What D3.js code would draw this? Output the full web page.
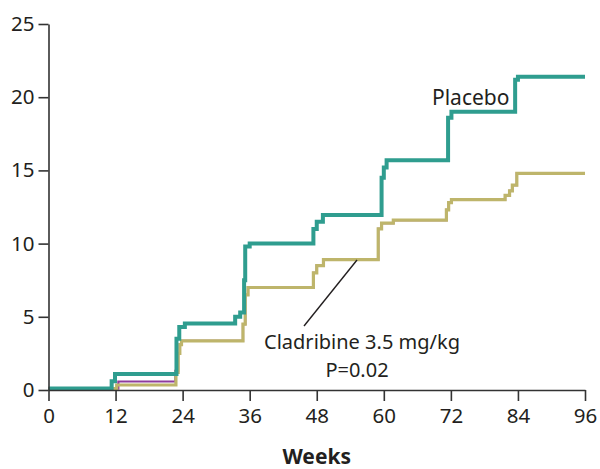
<!DOCTYPE html>
<html>
<head>
<meta charset="utf-8">
<script src="https://cdn.jsdelivr.net/npm/d3@7"></script>
<style>
  body { margin: 0; background: #fff; }
  text { font-family: "Noto Sans", "Open Sans", sans-serif; fill: #231f20; }
</style>
</head>
<body>
<div id="chart"></div>
<script>
// step points: [week, cumulative %]
var placeboWeeks  = [0, 11.3, 11.9, 22.9, 23.4, 24.4, 33.4, 34.3, 35.0, 35.2, 36.0, 47.4, 48.0, 49.1, 59.6, 60.0, 60.5, 71.5, 72.1, 83.5, 84.0, 96];
var placeboVals   = [0.1, 0.6, 1.1, 3.5, 4.3, 4.55, 5.0, 5.3, 7.5, 9.8, 10.0, 11.0, 11.5, 11.95, 14.5, 15.2, 15.7, 18.6, 19.0, 21.2, 21.4, 21.4];

var cladWeeks = [0, 12.2, 22.8, 23.2, 23.5, 23.8, 34.8, 35.2, 35.7, 47.4, 48.0, 49.2, 59.0, 59.6, 61.7, 71.2, 71.6, 72.1, 81.7, 82.5, 83.0, 83.8, 96];
var cladVals  = [0.1, 0.34, 1.2, 2.5, 3.1, 3.35, 4.5, 6.5, 7.0, 8.0, 8.5, 8.9, 11.0, 11.4, 11.6, 12.3, 12.8, 13.0, 13.3, 13.6, 14.0, 14.8, 14.8];

// third arm, mostly hidden behind the khaki line
var highWeeks = [0, 12.5, 22.7, 23.2, 23.5, 23.8, 34.8, 35.2, 35.7, 47.4, 48.0, 49.2, 59.0, 59.6, 61.7, 71.2, 71.6, 72.1, 81.7, 82.5, 83.0, 83.8, 96];
var highVals  = [0.1, 0.58, 1.3, 2.5, 3.1, 3.35, 4.5, 6.5, 7.0, 8.0, 8.5, 8.9, 11.0, 11.4, 11.6, 12.3, 12.8, 13.0, 13.3, 13.6, 14.0, 14.8, 14.8];

var xTicks = [0, 12, 24, 36, 48, 60, 72, 84, 96];
var yTicks = [0, 5, 10, 15, 20, 25];

var margin = {top: 24, right: 15, bottom: 79, left: 48.5},
    width = 600 - margin.left - margin.right,
    height = 469 - margin.top - margin.bottom;

var svg = d3.select("#chart").append("svg")
    .attr("width", 600).attr("height", 469)
  .append("g")
    .attr("transform", "translate(" + margin.left + "," + margin.top + ")");

var x = d3.scaleLinear().domain([0, 96]).range([0, width]);
var y = d3.scaleLinear().domain([0, 25]).range([height, 0]);

var line = d3.line()
    .x(function(d) { return x(d[0]); })
    .y(function(d) { return y(d[1]); })
    .curve(d3.curveStepAfter);

function pairs(w, v) { return w.map(function(d, i) { return [d, v[i]]; }); }

svg.append("path").datum(pairs(highWeeks, highVals))
    .attr("fill", "none").attr("stroke", "#8e3c9e").attr("stroke-width", 2.2)
    .attr("d", line);
svg.append("path").datum(pairs(cladWeeks, cladVals))
    .attr("fill", "none").attr("stroke", "#beb56b").attr("stroke-width", 3.2)
    .attr("d", line);
svg.append("path").datum(pairs(placeboWeeks, placeboVals))
    .attr("fill", "none").attr("stroke", "#2f9d8f").attr("stroke-width", 4)
    .attr("d", line);

// axes
var xAxis = svg.append("g")
    .attr("transform", "translate(0," + height + ")")
    .call(d3.axisBottom(x).tickValues(xTicks).tickSize(11).tickSizeOuter(0).tickPadding(7));
var yAxis = svg.append("g")
    .call(d3.axisLeft(y).tickValues(yTicks).tickSize(10).tickSizeOuter(0).tickPadding(4));

[xAxis, yAxis].forEach(function(a) {
  a.selectAll("path, line").attr("stroke", "#333").attr("stroke-width", 1.6);
  a.selectAll("text").style("font-size", "20.5px").attr("fill", "#231f20")
    .style("font-family", "'Noto Sans', sans-serif");
});

svg.append("text")
    .attr("x", width / 2).attr("y", height + 74)
    .attr("text-anchor", "middle")
    .style("font-size", "21px").style("font-weight", "bold")
    .text("Weeks");

// labels
svg.append("text")
    .attr("x", 432 - margin.left).attr("y", 105 - margin.top)
    .style("font-size", "21px")
    .text("Placebo");

svg.append("line")
    .attr("x1", 304 - margin.left).attr("y1", 326 - margin.top)
    .attr("x2", 357 - margin.left).attr("y2", 260 - margin.top)
    .attr("stroke", "#231f20").attr("stroke-width", 1.4);

svg.append("text")
    .attr("x", 362 - margin.left).attr("y", 349 - margin.top)
    .attr("text-anchor", "middle")
    .style("font-size", "20px")
    .text("Cladribine 3.5 mg/kg");
svg.append("text")
    .attr("x", 357 - margin.left).attr("y", 377 - margin.top)
    .attr("text-anchor", "middle")
    .style("font-size", "20px")
    .text("P=0.02");
</script>
</body>
</html>
